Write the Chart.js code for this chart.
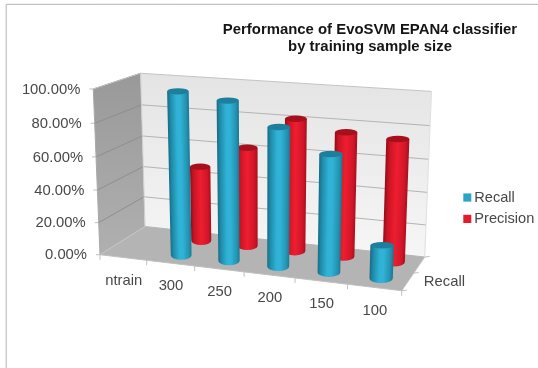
<!DOCTYPE html>
<html>
<head>
<meta charset="utf-8">
<style>
html,body{margin:0;padding:0;background:#fff;}
canvas{display:block;filter:blur(0.65px);}
</style>
<script src="https://cdn.jsdelivr.net/npm/chart.js@4/dist/chart.umd.min.js"></script>
</head>
<body>
<canvas id="c" width="538" height="368"></canvas>
<script>
const categories = ['ntrain', '300', '250', '200', '150', '100'];
const recall = [null, 99, 95.6, 82.6, 69.5, 19.7];
const precision = [null, 47.4, 61.7, 81.5, 75.7, 74.1];
const seriesNames = ['Recall', 'Precision'];
const depthLabel = 'Recall';
const titleLines = ['Performance of EvoSVM EPAN4 classifier', 'by training sample size'];

const FONT = '"Liberation Sans", Arial, sans-serif';
const TEXT = '#484848';
const floorCorners = [[100, 254.7], [401.7, 290.7], [424.7, 257], [145, 226.5]];
const frontTop = [93.3, 89];
const verticalPerspective = -0.04;
const DEPTH = [0.25, 0.75];
const SHADES = [
  {stops: [[0,'#176a84'],[.14,'#1f8aa8'],[.42,'#2fb2d6'],[.58,'#31b3d7'],[.86,'#2493b2'],[1,'#1a7590']], cap: '#1d7f9c'},
  {stops: [[0,'#8f0c16'],[.16,'#c81424'],[.5,'#ee1e2f'],[.84,'#d0162a'],[1,'#a80e1c']], cap: '#a80f1c'}
];

const proj = (function () {
  const [[x0,y0],[x1,y1],[x2,y2],[x3,y3]] = floorCorners;
  const dx1=x1-x2, dx2=x3-x2, sx=x0-x1+x2-x3, dy1=y1-y2, dy2=y3-y2, sy=y0-y1+y2-y3;
  const den=dx1*dy2-dx2*dy1;
  const g=(sx*dy2-dx2*sy)/den, h=(dx1*sy-sx*dy1)/den, i=verticalPerspective;
  const a=x1-x0+g*x1, b=x3-x0+h*x3, d=y1-y0+g*y1, e=y3-y0+h*y3;
  const c=frontTop[0]*(1+i)-x0, f=frontTop[1]*(1+i)-y0;
  return (u,v,w)=>{const k=1+g*u+h*w+i*v; return [(a*u+b*w+c*v+x0)/k,(d*u+e*w+f*v+y0)/k];};
})();

function poly(ctx, pts, fill) {
  ctx.beginPath();
  pts.forEach((p,i)=> i?ctx.lineTo(p[0],p[1]):ctx.moveTo(p[0],p[1]));
  ctx.closePath();
  ctx.fillStyle = fill; ctx.fill();
}
function line(ctx, a, b, col, lw) {
  ctx.beginPath(); ctx.moveTo(a[0],a[1]); ctx.lineTo(b[0],b[1]);
  ctx.strokeStyle=col; ctx.lineWidth=lw||1; ctx.stroke();
}

function drawCylinder(ctx, u0, u1, vTop, w, shade) {
  const uc=(u0+u1)/2;
  const b=proj(uc,0,w), t=proj(uc,vTop,w);
  const rb=(proj(u1,0,w)[0]-proj(u0,0,w)[0])/2, rt=(proj(u1,vTop,w)[0]-proj(u0,vTop,w)[0])/2;
  const ryb=4.4, ryt=3.2;
  const ax=b[0]-t[0], ay=b[1]-t[1], L=Math.hypot(ax,ay)||1, nx=ay/L, ny=-ax/L;
  const g=ctx.createLinearGradient(t[0]-nx*rt,t[1]-ny*rt,t[0]+nx*rt,t[1]+ny*rt);
  shade.stops.forEach(s=>g.addColorStop(s[0],s[1]));
  ctx.beginPath();
  ctx.moveTo(t[0]-rt,t[1]);
  ctx.lineTo(b[0]-rb,b[1]);
  ctx.ellipse(b[0],b[1],rb,ryb,0,Math.PI,0,true);
  ctx.lineTo(t[0]+rt,t[1]);
  ctx.closePath();
  ctx.fillStyle=g; ctx.fill();
  ctx.beginPath(); ctx.ellipse(t[0],t[1],rt,ryt,0,0,Math.PI*2);
  ctx.fillStyle=shade.cap; ctx.fill();
}

const scene = {
  id:'scene',
  afterLayout(chart){
    const tb=chart.titleBlock; tb.left=200; tb.right=540; tb.top=20.5; tb.bottom=56;
    const lg=chart.legend; lg.left=460; lg.right=538; lg.top=183.5; lg.bottom=368; lg.width=78; lg.height=184.5;
  },
  beforeDraw(chart){
    const ctx=chart.ctx;
    ctx.save();
    ctx.fillStyle='#fff'; ctx.fillRect(0,0,538,368);
    ctx.beginPath(); ctx.moveTo(6.2,368); ctx.lineTo(6.2,4.3); ctx.lineTo(538,4.3);
    ctx.strokeStyle='#b4b4b4'; ctx.lineWidth=1; ctx.stroke();
    ctx.restore();
  },
  beforeDatasetsDraw(chart){
    const ctx=chart.ctx, xs=chart.scales.x, ys=chart.scales.y;
    ctx.save();
    const wallG=ctx.createLinearGradient(0,74,0,255);
    wallG.addColorStop(0,'#999999'); wallG.addColorStop(1,'#b0b0b0');
    poly(ctx,[proj(0,0,0),proj(0,1,0),proj(0,1,1),proj(0,0,1)],wallG);
    const backG=ctx.createLinearGradient(0,74,0,258);
    backG.addColorStop(0,'#e4e4e4'); backG.addColorStop(1,'#f6f6f6');
    poly(ctx,[proj(0,0,1),proj(0,1,1),proj(1,1,1),proj(1,0,1)],backG);
    poly(ctx,[proj(0,0,0),proj(1,0,0),proj(1,0,1),proj(0,0,1)],'#b4b4b4');

    // value axis: gridlines, ticks, labels from the y scale's ticks
    ctx.font='14.8px '+FONT; ctx.fillStyle=TEXT; ctx.textBaseline='middle'; ctx.textAlign='right';
    ys.ticks.forEach(t=>{
      const v=ys.getDecimalForPixel(ys.getPixelForValue(t.value));
      const a=proj(0,v,0), b=proj(0,v,1), c=proj(1,v,1);
      line(ctx,a,b,v<0.01?'#c4c4c4':'#8e8e8e');
      line(ctx,b,c,v>0.99?'#c4c4c4':'#b4b4b4');
      line(ctx,[a[0]-4,a[1]],a,'#c0c0c0');
      ctx.fillStyle=TEXT;
      ctx.fillText(t.label,a[0]-13,a[1]+0.7);
    });
    // edges of the back wall and left wall
    line(ctx,proj(0,1,0),proj(0,1,1),'#c4c4c4');
    line(ctx,proj(0,0,1),proj(0,1,1),'#d0d0d0');
    line(ctx,proj(1,0,1),proj(1,1,1),'#e0e0e0');
    line(ctx,proj(0,0,0),proj(0,1,0),'#a8a8a8');
    // category axis
    line(ctx,proj(0,0,0),proj(1,0,0),'#c0c0c0');
    line(ctx,proj(1,0,0),proj(1,0,1),'#c0c0c0');
    const n=xs.ticks.length;
    for(let i=0;i<=n;i++){
      const p=proj(i/n,0,0);
      line(ctx,p,[p[0],p[1]+5],'#c0c0c0');
    }
    ctx.textAlign='center';
    xs.ticks.forEach((t,i)=>{
      const p=proj(xs.getDecimalForPixel(xs.getPixelForTick(i)),0,0);
      ctx.fillStyle=TEXT;
      ctx.fillText(xs.getLabelForValue(t.value),p[0]+0.5,p[1]+23);
    });
    // depth axis
    [0,.5,1].forEach(w=>{const p=proj(1,0,w); line(ctx,p,[p[0]+5,p[1]-0.5],'#c0c0c0');});
    const dp=proj(1,0,DEPTH[0]);
    ctx.textAlign='left'; ctx.fillStyle=TEXT;
    ctx.fillText(depthLabel,dp[0]+16,dp[1]+0.5);

    // bars, back series first
    [1,0].forEach(ds=>{
      const meta=chart.getDatasetMeta(ds);
      meta.data.forEach((el,i)=>{
        const val=meta._parsed[i].y;
        if(val===null||val===undefined||isNaN(val)) return;
        const u0=xs.getDecimalForPixel(el.x-el.width/2), u1=xs.getDecimalForPixel(el.x+el.width/2);
        drawCylinder(ctx,u0,u1,ys.getDecimalForPixel(el.y),DEPTH[ds],SHADES[ds]);
      });
    });
    ctx.restore();
    return false;
  },
  afterDraw(chart){
    const ctx=chart.ctx, lg=chart.legend;
    ctx.save();
    lg.legendItems.forEach((it,i)=>{
      ctx.fillStyle=it.fillStyle;
      ctx.fillRect(463.3,193.4+i*21.4,8,8.2);
    });
    ctx.restore();
  }
};

new Chart(document.getElementById('c'),{
  type:'bar',
  data:{labels:categories,datasets:[
    {label:seriesNames[0],data:recall,backgroundColor:'#2aa5c8',grouped:false,barPercentage:0.44,categoryPercentage:1},
    {label:seriesNames[1],data:precision,backgroundColor:'#e31b2b',grouped:false,barPercentage:0.44,categoryPercentage:1}
  ]},
  plugins:[scene],
  options:{
    responsive:false,animation:false,devicePixelRatio:1,
    layout:{padding:{left:100,right:10,top:10,bottom:70}},
    plugins:{
      tooltip:{enabled:false},
      title:{display:true,text:titleLines,font:{family:FONT,size:14.9,weight:'bold'},color:'#151515',padding:0,lineHeight:1.17},
      legend:{display:true,position:'right',align:'start',labels:{boxWidth:0,boxHeight:0,padding:7,color:TEXT,font:{family:FONT,size:14.6}}}
    },
    scales:{
      x:{display:false,type:'category',offset:true},
      y:{display:false,min:0,max:100,ticks:{stepSize:20,callback:v=>v.toFixed(2)+'%'}}
    }
  }
});
</script>
</body>
</html>
